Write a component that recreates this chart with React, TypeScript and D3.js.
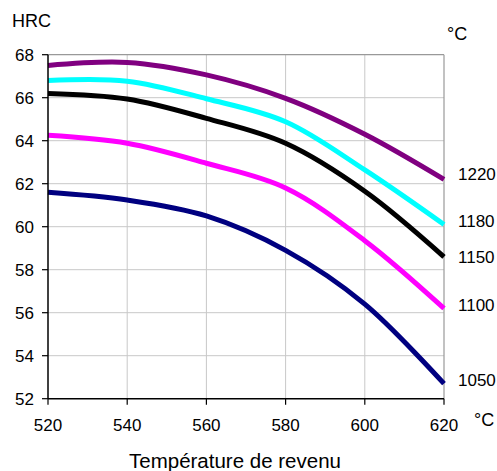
import React from "react";
import * as d3 from "d3";

const temps = [520, 540, 560, 580, 600, 620];
const s1220 = [67.5, 67.64, 67.06, 65.97, 64.3, 62.2];
const s1180 = [66.8, 66.77, 65.95, 64.88, 62.64, 60.1];
const s1150 = [66.2, 65.94, 65.04, 63.88, 61.65, 58.6];
const s1100 = [64.25, 63.88, 62.95, 61.8, 59.35, 56.2];
const s1050 = [61.6, 61.24, 60.5, 58.9, 56.4, 52.7];
const seriesLabels = ["1220", "1180", "1150", "1100", "1050"];
const seriesColors = ["#800080", "#00FFFF", "#000000", "#FF00FF", "#000080"];
const xTicks = [520, 540, 560, 580, 600, 620];
const yTicks = [52, 54, 56, 58, 60, 62, 64, 66, 68];

const W = 497;
const H = 471;
const L = 48, R = 444, T = 54.7, B = 398.7;
const font = "'Liberation Sans', Arial, sans-serif";
const labelShift = [-5.6, -4, 0, -4, -4];

export default function App() {
  const x = d3.scaleLinear().domain([520, 620]).range([L, R]);
  const y = d3.scaleLinear().domain([52, 68]).range([B, T]);
  const series = [s1220, s1180, s1150, s1100, s1050];
  const line = d3
    .line<number>()
    .x((_, i) => x(temps[i]))
    .y((d) => y(d))
    .curve(d3.curveCatmullRom.alpha(0.5));
  return (
    <svg width={W} height={H} style={{ position: "absolute", left: 0, top: 0 }} fontFamily={font}>
      <rect x={0} y={0} width={W} height={H} fill="#fff" />
      {xTicks.slice(1, -1).map((t) => (
        <line key={"gx" + t} x1={x(t)} x2={x(t)} y1={T} y2={B} stroke="#c8c8c8" strokeWidth={1} />
      ))}
      {yTicks.slice(1, -1).map((t) => (
        <line key={"gy" + t} x1={L} x2={R} y1={y(t)} y2={y(t)} stroke="#c8c8c8" strokeWidth={1} />
      ))}
      <line x1={L} x2={R} y1={T} y2={T} stroke="#999" strokeWidth={1.2} />
      <line x1={R} x2={R} y1={T} y2={B} stroke="#999" strokeWidth={1.2} />
      {series.map((s, i) => (
        <path key={i} d={line(s) || ""} fill="none" stroke={seriesColors[i]} strokeWidth={5} strokeLinejoin="round" />
      ))}
      <line x1={L} x2={L} y1={T} y2={B} stroke="#000" strokeWidth={1.5} />
      <line x1={L} x2={R} y1={B} y2={B} stroke="#000" strokeWidth={1.5} />
      {yTicks.map((t) => (
        <g key={"ty" + t}>
          <line x1={L - 6} x2={L} y1={y(t)} y2={y(t)} stroke="#000" strokeWidth={1.2} />
          <text x={34} y={y(t)} dy="0.36em" textAnchor="end" fontSize={17} fill="#000">
            {t}
          </text>
        </g>
      ))}
      {xTicks.map((t) => (
        <g key={"tx" + t}>
          <line x1={x(t)} x2={x(t)} y1={B} y2={B + 6} stroke="#000" strokeWidth={1.2} />
          <text x={x(t)} y={425} dy="0.36em" textAnchor="middle" fontSize={17} fill="#000">
            {t}
          </text>
        </g>
      ))}
      {series.map((s, i) => (
        <text key={"lab" + i} x={458} y={y(s[s.length - 1]) + labelShift[i]} dy="0.36em" fontSize={17} fill="#000">
          {seriesLabels[i]}
        </text>
      ))}
      <text x={12} y={21} dy="0.36em" fontSize={18} fill="#000">HRC</text>
      <text x={447} y={34} dy="0.36em" fontSize={18} fill="#000">°C</text>
      <text x={474} y={420} dy="0.36em" fontSize={18} fill="#000">°C</text>
      <text x={235} y={468} textAnchor="middle" fontSize={20.5} fill="#000">Température de revenu</text>
    </svg>
  );
}
